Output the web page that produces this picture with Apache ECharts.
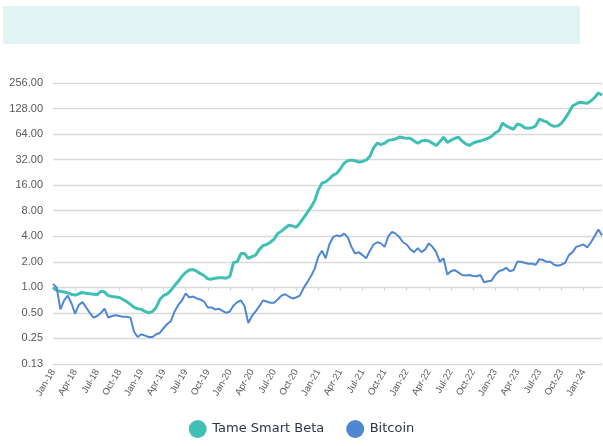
<!DOCTYPE html>
<html>
<head>
<meta charset="utf-8">
<script src="https://cdn.jsdelivr.net/npm/echarts@6/dist/echarts.min.js"></script>
<style>html,body{margin:0;padding:0;background:#fff}#c{width:603px;height:446px}</style>
</head>
<body>
<div id="c"></div>
<script>
// Quarter tick labels (every 6 half-month points)
var tickLabels = ["Jan-18","Apr-18","Jul-18","Oct-18","Jan-19","Apr-19","Jul-19","Oct-19","Jan-20","Apr-20","Jul-20","Oct-20","Jan-21","Apr-21","Jul-21","Oct-21","Jan-22","Apr-22","Jul-22","Oct-22","Jan-23","Apr-23","Jul-23","Oct-23","Jan-24"];
// Y axis tick values (log base 2)
var yTicks = [0.125,0.25,0.5,1,2,4,8,16,32,64,128,256];
// Series values, half-monthly from Jan-18 to mid-Mar-24
var tameSmartBeta = [1.00,0.92,0.90,0.88,0.86,0.83,0.81,0.84,0.87,0.85,0.84,0.83,0.82,0.90,0.88,0.80,0.78,0.77,0.76,0.72,
0.68,0.63,0.58,0.56,0.55,0.52,0.50,0.52,0.58,0.72,0.80,0.84,0.92,1.05,1.18,1.35,1.50,1.60,1.62,1.55,
1.45,1.38,1.26,1.25,1.28,1.30,1.30,1.28,1.35,1.97,2.0,2.5,2.5,2.2,2.3,2.4,2.8,3.1,3.2,3.4,
3.7,4.3,4.6,5.0,5.4,5.3,5.1,5.7,6.6,7.6,8.8,10.5,14,16.9,17.5,19,21,22,25,29,
31,31.6,31,30,30.5,31.6,35,44,50,48,50,54,55,56,59,58,57,57,53,50,
53,54,53,50,47,52,59,51,54,57,59,53,49,47,50,52,53,55,57,60,
66,70,86,80,76,73,84,82,76,75,76,80,96,92,89,82,79,80,86,98,
115,137,145,152,150,148,158,172,195,184];
var bitcoin = [1.1,1.0,0.55,0.7,0.8,0.65,0.49,0.62,0.67,0.58,0.50,0.44,0.46,0.50,0.56,0.44,0.46,0.47,0.46,0.45,
0.45,0.44,0.30,0.26,0.28,0.27,0.26,0.26,0.28,0.29,0.33,0.37,0.40,0.52,0.62,0.70,0.85,0.76,0.78,0.74,
0.72,0.68,0.58,0.58,0.55,0.56,0.53,0.50,0.52,0.61,0.67,0.70,0.60,0.38,0.46,0.52,0.60,0.70,0.68,0.66,
0.66,0.72,0.80,0.83,0.78,0.74,0.76,0.80,0.98,1.15,1.35,1.65,2.3,2.7,2.2,3.2,3.9,4.1,4.0,4.3,
3.9,3.0,2.5,2.6,2.4,2.2,2.7,3.2,3.4,3.3,3.0,4.0,4.5,4.3,3.9,3.4,3.2,2.8,2.6,2.9,
2.6,2.8,3.3,3.0,2.6,2.0,2.2,1.42,1.55,1.6,1.5,1.4,1.38,1.4,1.36,1.35,1.4,1.15,1.18,1.2,
1.4,1.55,1.6,1.7,1.55,1.6,2.0,2.0,1.95,1.9,1.9,1.85,2.15,2.1,2.0,2.0,1.85,1.8,1.85,1.95,
2.4,2.6,3.0,3.1,3.2,2.95,3.4,4.0,4.8,4.1];

var categories = [];
for (var i = 0; i < tameSmartBeta.length; i++) {
  categories.push(i % 6 === 0 ? tickLabels[i / 6] : String(i));
}

var chart = echarts.init(document.getElementById('c'), null, {renderer: 'canvas'});
var gridColor = '#d9d9d9';
chart.setOption({
  animation: false,
  backgroundColor: '#ffffff',
  graphic: [{
    type: 'rect', left: 3, top: 6, shape: {width: 577, height: 38},
    style: {fill: '#e1f3f2'}, silent: true
  }],
  grid: {left: 53, right: 1, top: 83, bottom: 82},
  legend: {
    bottom: 3, left: 'center',
    itemWidth: 19, itemHeight: 18, itemGap: 22,
    icon: 'circle',
    textStyle: {fontFamily: 'DejaVu Sans', fontSize: 13, color: '#2d3648'},
    data: ['Tame Smart Beta', 'Bitcoin']
  },
  xAxis: [{
    type: 'category', data: categories, boundaryGap: false,
    axisLine: {show: false}, axisTick: {show: false},
    axisLabel: {
      interval: function (idx) { return idx % 6 === 0; },
      formatter: function (v, idx) { return idx % 6 === 0 ? tickLabels[idx / 6] : ''; },
      rotate: 60, fontSize: 9.5, color: '#595959', fontFamily: 'Liberation Sans', margin: 6
    },
    splitLine: {show: false}
  }, {
    type: 'category', data: categories, boundaryGap: false, position: 'bottom', offset: -77,
    axisLine: {show: true, lineStyle: {color: gridColor, width: 1}},
    axisTick: {show: true, interval: function (idx) { return idx % 6 === 0; }, length: 4, lineStyle: {color: gridColor}},
    axisLabel: {show: false}, splitLine: {show: false}
  }],
  yAxis: {
    type: 'log', logBase: 2, min: 0.125, max: 256, interval: 1,
    axisLine: {show: false}, axisTick: {show: false},
    axisLabel: {
      color: '#595959', fontSize: 11, fontFamily: 'Liberation Sans', margin: 10,
      formatter: function (v) { return (Math.round(v * 100) / 100).toFixed(2); }
    },
    splitLine: {lineStyle: {color: gridColor, width: 1.3}}
  },
  series: [{
    name: 'Tame Smart Beta', type: 'line', data: tameSmartBeta, xAxisIndex: 0,
    showSymbol: false, symbol: 'none', itemStyle: {color: '#40bfb5'},
    lineStyle: {color: '#40bfb5', width: 3}
  }, {
    name: 'Bitcoin', type: 'line', data: bitcoin, xAxisIndex: 0,
    showSymbol: false, symbol: 'none', itemStyle: {color: '#5087d3'},
    lineStyle: {color: '#5087d3', width: 2}
  }]
});
</script>
</body>
</html>
